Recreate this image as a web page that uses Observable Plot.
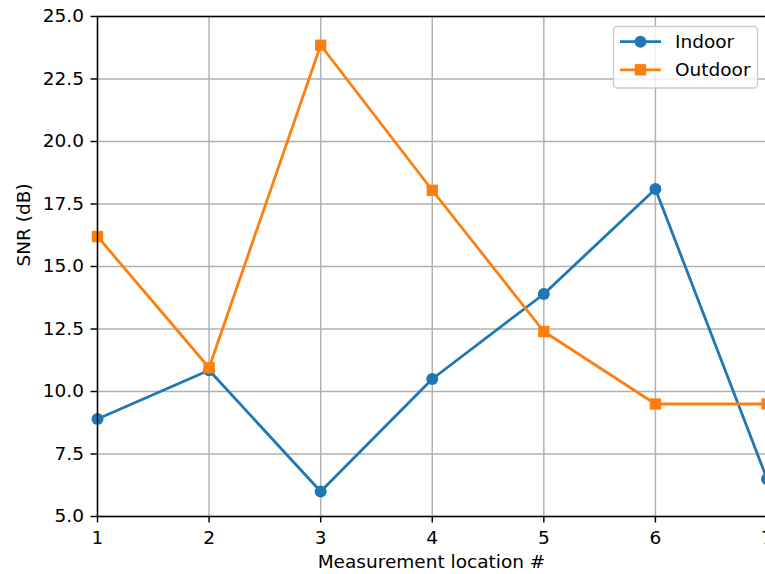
<!DOCTYPE html>
<html>
<head>
<meta charset="utf-8">
<script src="https://cdn.jsdelivr.net/npm/d3@7"></script>
<script src="https://cdn.jsdelivr.net/npm/@observablehq/plot@0.6"></script>
<style>
  html, body { margin: 0; padding: 0; background: #fff; overflow: hidden; }
  #chart { position: relative; width: 765px; height: 574px; overflow: hidden; }
</style>
</head>
<body>
<div id="chart"></div>
<script>
const locations = [1, 2, 3, 4, 5, 6, 7];
const indoor = [8.9, 10.85, 6.0, 10.5, 13.9, 18.1, 6.5];
const outdoor = [16.2, 10.95, 23.85, 18.05, 12.4, 9.5, 9.5];
const xTicks = [1, 2, 3, 4, 5, 6, 7];
const yTicks = [5, 7.5, 10, 12.5, 15, 17.5, 20, 22.5, 25];
const seriesNames = ["Indoor", "Outdoor"];
const colors = ["#1f77b4", "#ff7f0e"];

const indoorData = locations.map((x, i) => ({x, y: indoor[i]}));
const outdoorData = locations.map((x, i) => ({x, y: outdoor[i]}));

const FONT = "DejaVu Sans";
const FS = 18.5;
const LW = 2.8;
const GW = 1.45;

const plot = Plot.plot({
  width: 765,
  height: 574,
  marginLeft: 97,
  marginTop: 16,
  marginBottom: 58,
  marginRight: 0,
  style: {fontFamily: FONT, fontSize: FS + "px", color: "#000", background: "#fff", overflow: "hidden"},
  x: {domain: [1, 7], range: [97, 766.5]},
  y: {domain: [5, 25], range: [516, 16]},
  marks: [
    Plot.gridX(xTicks, {stroke: "#b0b0b0", strokeOpacity: 1, strokeWidth: GW}),
    Plot.gridY(yTicks, {stroke: "#b0b0b0", strokeOpacity: 1, strokeWidth: GW}),
    Plot.line(indoorData, {x: "x", y: "y", stroke: colors[0], strokeWidth: LW}),
    Plot.dot(indoorData, {x: "x", y: "y", fill: colors[0], r: 6, symbol: "circle"}),
    Plot.line(outdoorData, {x: "x", y: "y", stroke: colors[1], strokeWidth: LW}),
    Plot.dot(outdoorData, {x: "x", y: "y", fill: colors[1], r: 6.4, symbol: "square"}),
    Plot.ruleY([5, 25], {stroke: "#000", strokeWidth: GW}),
    Plot.ruleX([1, 7], {stroke: "#000", strokeWidth: GW}),
    Plot.axisX(xTicks, {tickSize: 6.5, tickPadding: 7.5, stroke: "#000", strokeWidth: GW, fontSize: FS, label: null, tickFormat: d => String(d)}),
    Plot.axisY(yTicks, {tickSize: 6.5, tickPadding: 7, stroke: "#000", strokeWidth: GW, fontSize: FS, label: null, tickFormat: d => d.toFixed(1)}),
    Plot.text(["Measurement location #"], {frameAnchor: "bottom", dy: 46, fontSize: FS, lineAnchor: "middle", fill: "#000"}),
    Plot.text(["SNR (dB)"], {frameAnchor: "left", dx: -73, rotate: -90, fontSize: FS, lineAnchor: "middle", fill: "#000"})
  ]
});

// Legend (matplotlib-style, upper right)
const svg = d3.select(plot);
const lg = svg.append("g").attr("font-family", FONT).attr("font-size", FS).attr("text-anchor", "start");
lg.append("rect").attr("x", 613.5).attr("y", 26.5).attr("width", 144).attr("height", 61.5)
  .attr("rx", 3.5).attr("fill", "#fff").attr("fill-opacity", 0.8)
  .attr("stroke", "#cccccc").attr("stroke-width", 1.3);
const rowsY = [41.7, 69.8];
seriesNames.forEach((name, i) => {
  const y = rowsY[i];
  lg.append("line").attr("x1", 620).attr("x2", 661).attr("y1", y).attr("y2", y)
    .attr("stroke", colors[i]).attr("stroke-width", LW);
  if (i === 0) {
    lg.append("circle").attr("cx", 640.5).attr("cy", y).attr("r", 6).attr("fill", colors[i]);
  } else {
    lg.append("rect").attr("x", 634.8).attr("y", y - 5.7).attr("width", 11.4).attr("height", 11.4).attr("fill", colors[i]);
  }
  lg.append("text").attr("x", 675).attr("y", y).attr("dy", "0.35em").attr("fill", "#000").text(name);
});

document.getElementById("chart").appendChild(plot);
</script>
</body>
</html>
